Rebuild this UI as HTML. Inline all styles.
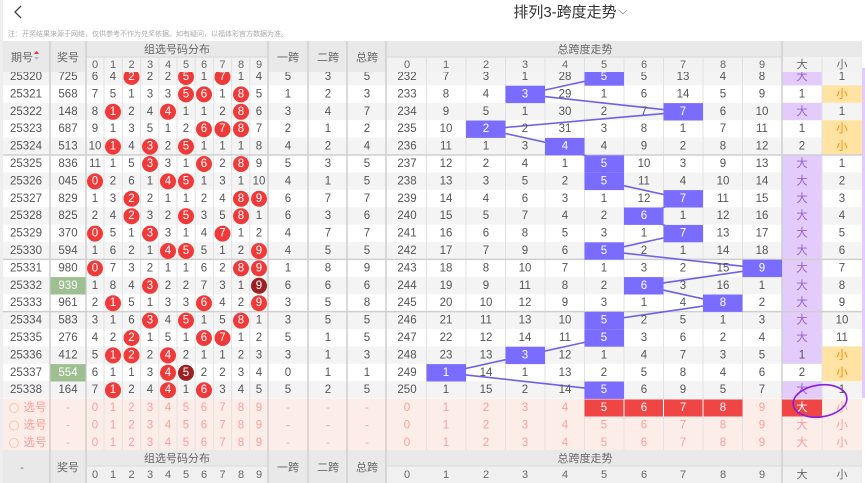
<!DOCTYPE html>
<html><head><meta charset="utf-8"><style>
body{margin:0;background:#fff;width:865px;height:483px;overflow:hidden}
svg{display:block;font-family:"Liberation Sans","Noto Sans CJK SC",sans-serif}
text{text-anchor:middle;font-size:11.5px;fill:#555}
g[transform] text{dominant-baseline:central}
.w{fill:#fff}.c{fill:#f03a3a}.d{fill:#9a2222}.b{fill:#7a6cff}
.p{fill:#f8a0a0}.h{fill:#666;font-size:11px}
.dx{fill:#9a62d0}.xo{fill:#ff8c00}
</style></head><body>
<svg width="865" height="483" viewBox="0 0 865 483">
<rect x="0" y="0" width="3" height="483" fill="#eee"/>
<g>
<rect x="3" y="68" width="859" height="17.4" fill="#f4f4f4"/>
<rect x="3" y="102.8" width="859" height="17.4" fill="#f4f4f4"/>
<rect x="3" y="137.6" width="859" height="17.4" fill="#f4f4f4"/>
<rect x="3" y="172.4" width="859" height="17.4" fill="#f4f4f4"/>
<rect x="3" y="207.2" width="859" height="17.4" fill="#f4f4f4"/>
<rect x="3" y="242" width="859" height="17.4" fill="#f4f4f4"/>
<rect x="3" y="276.8" width="859" height="17.4" fill="#f4f4f4"/>
<rect x="3" y="311.6" width="859" height="17.4" fill="#f4f4f4"/>
<rect x="3" y="346.4" width="859" height="17.4" fill="#f4f4f4"/>
<rect x="3" y="381.2" width="859" height="17.4" fill="#f4f4f4"/>
<rect x="3" y="399" width="859" height="51" fill="#fdede8"/>
</g>
<g fill="#e3cbfb">
<rect x="782" y="68" width="40" height="17.4"/>
<rect x="782" y="102.8" width="40" height="17.4"/>
<rect x="782" y="155" width="40" height="208.8"/>
<rect x="782" y="381.2" width="40" height="17.4"/>
</g>
<g fill="#ffe3a3">
<rect x="822" y="85.4" width="40" height="17.4"/>
<rect x="822" y="120.2" width="40" height="34.8"/>
<rect x="822" y="346.4" width="40" height="34.8"/>
</g>
<rect x="862" y="68" width="3" height="330" fill="#e3cbfb"/>
<g stroke="#e2e2e2" stroke-width="1">
<line x1="104" y1="57" x2="104" y2="450"/><line x1="122.4" y1="57" x2="122.4" y2="450"/><line x1="140.6" y1="57" x2="140.6" y2="450"/><line x1="158.8" y1="57" x2="158.8" y2="450"/><line x1="177" y1="57" x2="177" y2="450"/><line x1="195.2" y1="57" x2="195.2" y2="450"/><line x1="213.4" y1="57" x2="213.4" y2="450"/><line x1="231.6" y1="57" x2="231.6" y2="450"/><line x1="249.8" y1="57" x2="249.8" y2="450"/>
<line x1="426.5" y1="57" x2="426.5" y2="450"/><line x1="466" y1="57" x2="466" y2="450"/><line x1="505.5" y1="57" x2="505.5" y2="450"/><line x1="545" y1="57" x2="545" y2="450"/><line x1="584.5" y1="57" x2="584.5" y2="450"/><line x1="624" y1="57" x2="624" y2="450"/><line x1="663.5" y1="57" x2="663.5" y2="450"/><line x1="703" y1="57" x2="703" y2="450"/><line x1="742.5" y1="57" x2="742.5" y2="450"/>
<line x1="822" y1="57" x2="822" y2="450"/>
</g>
<g stroke="#cfcfcf" stroke-width="1.5">
<line x1="50" y1="41" x2="50" y2="483"/><line x1="86" y1="41" x2="86" y2="483"/><line x1="268" y1="41" x2="268" y2="483"/><line x1="308" y1="41" x2="308" y2="483"/><line x1="347" y1="41" x2="347" y2="483"/><line x1="386" y1="41" x2="386" y2="483"/><line x1="782" y1="41" x2="782" y2="483"/>
<line x1="3" y1="155" x2="862" y2="155"/><line x1="3" y1="259.4" x2="862" y2="259.4"/><line x1="3" y1="311.6" x2="862" y2="311.6"/>
</g>
<polyline fill="none" stroke="#6f5fef" stroke-width="1.6" points="604.3,77 525.3,94.4 683.3,111.8 485.8,129.2 564.8,146.6 604.3,164 604.3,181.4 683.3,198.8 643.8,216.2 683.3,233.6 604.3,251 762.3,268.4 643.8,285.8 722.8,303.2 604.3,320.6 604.3,338 525.3,355.4 446.3,372.8 604.3,390.2"/>

<g transform="translate(0,77)"><text x="26">25320</text><text x="68">725</text><text x="95">6</text><text x="113">4</text><circle cx="131.5" r="8" class="c"/><text x="131.5" class="w">2</text><text x="150">2</text><text x="168">2</text><circle cx="186" r="8" class="c"/><text x="186" class="w">5</text><text x="204">1</text><circle cx="222.5" r="8" class="c"/><text x="222.5" class="w">7</text><text x="241">1</text><text x="259">4</text><text x="288">5</text><text x="328">3</text><text x="367">5</text><text x="407">232</text><text x="446">7</text><text x="486">3</text><text x="525">1</text><text x="565">28</text><rect x="584.5" y="-8.7" width="39.5" height="17.4" class="b"/><text x="604" class="w">5</text><text x="644">5</text><text x="683">13</text><text x="723">4</text><text x="762">8</text><text x="802" class="dx">大</text><text x="842">1</text></g>
<g transform="translate(0,94.4)"><text x="26">25321</text><text x="68">568</text><text x="95">7</text><text x="113">5</text><text x="131.5">1</text><text x="150">3</text><text x="168">3</text><circle cx="186" r="8" class="c"/><text x="186" class="w">5</text><circle cx="204" r="8" class="c"/><text x="204" class="w">6</text><text x="222.5">1</text><circle cx="241" r="8" class="c"/><text x="241" class="w">8</text><text x="259">5</text><text x="288">1</text><text x="328">2</text><text x="367">3</text><text x="407">233</text><text x="446">8</text><text x="486">4</text><rect x="505.5" y="-8.7" width="39.5" height="17.4" class="b"/><text x="525" class="w">3</text><text x="565">29</text><text x="604">1</text><text x="644">6</text><text x="683">14</text><text x="723">5</text><text x="762">9</text><text x="802">1</text><text x="842" class="xo">小</text></g>
<g transform="translate(0,111.8)"><text x="26">25322</text><text x="68">148</text><text x="95">8</text><circle cx="113" r="8" class="c"/><text x="113" class="w">1</text><text x="131.5">2</text><text x="150">4</text><circle cx="168" r="8" class="c"/><text x="168" class="w">4</text><text x="186">1</text><text x="204">1</text><text x="222.5">2</text><circle cx="241" r="8" class="c"/><text x="241" class="w">8</text><text x="259">6</text><text x="288">3</text><text x="328">4</text><text x="367">7</text><text x="407">234</text><text x="446">9</text><text x="486">5</text><text x="525">1</text><text x="565">30</text><text x="604">2</text><text x="644">7</text><rect x="663.5" y="-8.7" width="39.5" height="17.4" class="b"/><text x="683" class="w">7</text><text x="723">6</text><text x="762">10</text><text x="802" class="dx">大</text><text x="842">1</text></g>
<g transform="translate(0,129.2)"><text x="26">25323</text><text x="68">687</text><text x="95">9</text><text x="113">1</text><text x="131.5">3</text><text x="150">5</text><text x="168">1</text><text x="186">2</text><circle cx="204" r="8" class="c"/><text x="204" class="w">6</text><circle cx="222.5" r="8" class="c"/><text x="222.5" class="w">7</text><circle cx="241" r="8" class="c"/><text x="241" class="w">8</text><text x="259">7</text><text x="288">2</text><text x="328">1</text><text x="367">2</text><text x="407">235</text><text x="446">10</text><rect x="466" y="-8.7" width="39.5" height="17.4" class="b"/><text x="486" class="w">2</text><text x="525">2</text><text x="565">31</text><text x="604">3</text><text x="644">8</text><text x="683">1</text><text x="723">7</text><text x="762">11</text><text x="802">1</text><text x="842" class="xo">小</text></g>
<g transform="translate(0,146.6)"><text x="26">25324</text><text x="68">513</text><text x="95">10</text><circle cx="113" r="8" class="c"/><text x="113" class="w">1</text><text x="131.5">4</text><circle cx="150" r="8" class="c"/><text x="150" class="w">3</text><text x="168">2</text><circle cx="186" r="8" class="c"/><text x="186" class="w">5</text><text x="204">1</text><text x="222.5">1</text><text x="241">1</text><text x="259">8</text><text x="288">4</text><text x="328">2</text><text x="367">4</text><text x="407">236</text><text x="446">11</text><text x="486">1</text><text x="525">3</text><rect x="545" y="-8.7" width="39.5" height="17.4" class="b"/><text x="565" class="w">4</text><text x="604">4</text><text x="644">9</text><text x="683">2</text><text x="723">8</text><text x="762">12</text><text x="802">2</text><text x="842" class="xo">小</text></g>
<g transform="translate(0,164)"><text x="26">25325</text><text x="68">836</text><text x="95">11</text><text x="113">1</text><text x="131.5">5</text><circle cx="150" r="8" class="c"/><text x="150" class="w">3</text><text x="168">3</text><text x="186">1</text><circle cx="204" r="8" class="c"/><text x="204" class="w">6</text><text x="222.5">2</text><circle cx="241" r="8" class="c"/><text x="241" class="w">8</text><text x="259">9</text><text x="288">5</text><text x="328">3</text><text x="367">5</text><text x="407">237</text><text x="446">12</text><text x="486">2</text><text x="525">4</text><text x="565">1</text><rect x="584.5" y="-8.7" width="39.5" height="17.4" class="b"/><text x="604" class="w">5</text><text x="644">10</text><text x="683">3</text><text x="723">9</text><text x="762">13</text><text x="802" class="dx">大</text><text x="842">1</text></g>
<g transform="translate(0,181.4)"><text x="26">25326</text><text x="68">045</text><circle cx="95" r="8" class="c"/><text x="95" class="w">0</text><text x="113">2</text><text x="131.5">6</text><text x="150">1</text><circle cx="168" r="8" class="c"/><text x="168" class="w">4</text><circle cx="186" r="8" class="c"/><text x="186" class="w">5</text><text x="204">1</text><text x="222.5">3</text><text x="241">1</text><text x="259">10</text><text x="288">4</text><text x="328">1</text><text x="367">5</text><text x="407">238</text><text x="446">13</text><text x="486">3</text><text x="525">5</text><text x="565">2</text><rect x="584.5" y="-8.7" width="39.5" height="17.4" class="b"/><text x="604" class="w">5</text><text x="644">11</text><text x="683">4</text><text x="723">10</text><text x="762">14</text><text x="802" class="dx">大</text><text x="842">2</text></g>
<g transform="translate(0,198.8)"><text x="26">25327</text><text x="68">829</text><text x="95">1</text><text x="113">3</text><circle cx="131.5" r="8" class="c"/><text x="131.5" class="w">2</text><text x="150">2</text><text x="168">1</text><text x="186">1</text><text x="204">2</text><text x="222.5">4</text><circle cx="241" r="8" class="c"/><text x="241" class="w">8</text><circle cx="259" r="8" class="c"/><text x="259" class="w">9</text><text x="288">6</text><text x="328">7</text><text x="367">7</text><text x="407">239</text><text x="446">14</text><text x="486">4</text><text x="525">6</text><text x="565">3</text><text x="604">1</text><text x="644">12</text><rect x="663.5" y="-8.7" width="39.5" height="17.4" class="b"/><text x="683" class="w">7</text><text x="723">11</text><text x="762">15</text><text x="802" class="dx">大</text><text x="842">3</text></g>
<g transform="translate(0,216.2)"><text x="26">25328</text><text x="68">825</text><text x="95">2</text><text x="113">4</text><circle cx="131.5" r="8" class="c"/><text x="131.5" class="w">2</text><text x="150">3</text><text x="168">2</text><circle cx="186" r="8" class="c"/><text x="186" class="w">5</text><text x="204">3</text><text x="222.5">5</text><circle cx="241" r="8" class="c"/><text x="241" class="w">8</text><text x="259">1</text><text x="288">6</text><text x="328">3</text><text x="367">6</text><text x="407">240</text><text x="446">15</text><text x="486">5</text><text x="525">7</text><text x="565">4</text><text x="604">2</text><rect x="624" y="-8.7" width="39.5" height="17.4" class="b"/><text x="644" class="w">6</text><text x="683">1</text><text x="723">12</text><text x="762">16</text><text x="802" class="dx">大</text><text x="842">4</text></g>
<g transform="translate(0,233.6)"><text x="26">25329</text><text x="68">370</text><circle cx="95" r="8" class="c"/><text x="95" class="w">0</text><text x="113">5</text><text x="131.5">1</text><circle cx="150" r="8" class="c"/><text x="150" class="w">3</text><text x="168">3</text><text x="186">1</text><text x="204">4</text><circle cx="222.5" r="8" class="c"/><text x="222.5" class="w">7</text><text x="241">1</text><text x="259">2</text><text x="288">4</text><text x="328">7</text><text x="367">7</text><text x="407">241</text><text x="446">16</text><text x="486">6</text><text x="525">8</text><text x="565">5</text><text x="604">3</text><text x="644">1</text><rect x="663.5" y="-8.7" width="39.5" height="17.4" class="b"/><text x="683" class="w">7</text><text x="723">13</text><text x="762">17</text><text x="802" class="dx">大</text><text x="842">5</text></g>
<g transform="translate(0,251)"><text x="26">25330</text><text x="68">594</text><text x="95">1</text><text x="113">6</text><text x="131.5">2</text><text x="150">1</text><circle cx="168" r="8" class="c"/><text x="168" class="w">4</text><circle cx="186" r="8" class="c"/><text x="186" class="w">5</text><text x="204">5</text><text x="222.5">1</text><text x="241">2</text><circle cx="259" r="8" class="c"/><text x="259" class="w">9</text><text x="288">4</text><text x="328">5</text><text x="367">5</text><text x="407">242</text><text x="446">17</text><text x="486">7</text><text x="525">9</text><text x="565">6</text><rect x="584.5" y="-8.7" width="39.5" height="17.4" class="b"/><text x="604" class="w">5</text><text x="644">2</text><text x="683">1</text><text x="723">14</text><text x="762">18</text><text x="802" class="dx">大</text><text x="842">6</text></g>
<g transform="translate(0,268.4)"><text x="26">25331</text><text x="68">980</text><circle cx="95" r="8" class="c"/><text x="95" class="w">0</text><text x="113">7</text><text x="131.5">3</text><text x="150">2</text><text x="168">1</text><text x="186">1</text><text x="204">6</text><text x="222.5">2</text><circle cx="241" r="8" class="c"/><text x="241" class="w">8</text><circle cx="259" r="8" class="c"/><text x="259" class="w">9</text><text x="288">1</text><text x="328">8</text><text x="367">9</text><text x="407">243</text><text x="446">18</text><text x="486">8</text><text x="525">10</text><text x="565">7</text><text x="604">1</text><text x="644">3</text><text x="683">2</text><text x="723">15</text><rect x="742.5" y="-8.7" width="39.5" height="17.4" class="b"/><text x="762" class="w">9</text><text x="802" class="dx">大</text><text x="842">7</text></g>
<g transform="translate(0,285.8)"><text x="26">25332</text><rect x="50.5" y="-8.7" width="35" height="17.4" fill="#9dbf91"/><text x="68" class="w">939</text><text x="95">1</text><text x="113">8</text><text x="131.5">4</text><circle cx="150" r="8" class="c"/><text x="150" class="w">3</text><text x="168">2</text><text x="186">2</text><text x="204">7</text><text x="222.5">3</text><text x="241">1</text><circle cx="259" r="8" class="d"/><text x="259" class="w">9</text><text x="288">6</text><text x="328">6</text><text x="367">6</text><text x="407">244</text><text x="446">19</text><text x="486">9</text><text x="525">11</text><text x="565">8</text><text x="604">2</text><rect x="624" y="-8.7" width="39.5" height="17.4" class="b"/><text x="644" class="w">6</text><text x="683">3</text><text x="723">16</text><text x="762">1</text><text x="802" class="dx">大</text><text x="842">8</text></g>
<g transform="translate(0,303.2)"><text x="26">25333</text><text x="68">961</text><text x="95">2</text><circle cx="113" r="8" class="c"/><text x="113" class="w">1</text><text x="131.5">5</text><text x="150">1</text><text x="168">3</text><text x="186">3</text><circle cx="204" r="8" class="c"/><text x="204" class="w">6</text><text x="222.5">4</text><text x="241">2</text><circle cx="259" r="8" class="c"/><text x="259" class="w">9</text><text x="288">3</text><text x="328">5</text><text x="367">8</text><text x="407">245</text><text x="446">20</text><text x="486">10</text><text x="525">12</text><text x="565">9</text><text x="604">3</text><text x="644">1</text><text x="683">4</text><rect x="703" y="-8.7" width="39.5" height="17.4" class="b"/><text x="723" class="w">8</text><text x="762">2</text><text x="802" class="dx">大</text><text x="842">9</text></g>
<g transform="translate(0,320.6)"><text x="26">25334</text><text x="68">583</text><text x="95">3</text><text x="113">1</text><text x="131.5">6</text><circle cx="150" r="8" class="c"/><text x="150" class="w">3</text><text x="168">4</text><circle cx="186" r="8" class="c"/><text x="186" class="w">5</text><text x="204">1</text><text x="222.5">5</text><circle cx="241" r="8" class="c"/><text x="241" class="w">8</text><text x="259">1</text><text x="288">3</text><text x="328">5</text><text x="367">5</text><text x="407">246</text><text x="446">21</text><text x="486">11</text><text x="525">13</text><text x="565">10</text><rect x="584.5" y="-8.7" width="39.5" height="17.4" class="b"/><text x="604" class="w">5</text><text x="644">2</text><text x="683">5</text><text x="723">1</text><text x="762">3</text><text x="802" class="dx">大</text><text x="842">10</text></g>
<g transform="translate(0,338)"><text x="26">25335</text><text x="68">276</text><text x="95">4</text><text x="113">2</text><circle cx="131.5" r="8" class="c"/><text x="131.5" class="w">2</text><text x="150">1</text><text x="168">5</text><text x="186">1</text><circle cx="204" r="8" class="c"/><text x="204" class="w">6</text><circle cx="222.5" r="8" class="c"/><text x="222.5" class="w">7</text><text x="241">1</text><text x="259">2</text><text x="288">5</text><text x="328">1</text><text x="367">5</text><text x="407">247</text><text x="446">22</text><text x="486">12</text><text x="525">14</text><text x="565">11</text><rect x="584.5" y="-8.7" width="39.5" height="17.4" class="b"/><text x="604" class="w">5</text><text x="644">3</text><text x="683">6</text><text x="723">2</text><text x="762">4</text><text x="802" class="dx">大</text><text x="842">11</text></g>
<g transform="translate(0,355.4)"><text x="26">25336</text><text x="68">412</text><text x="95">5</text><circle cx="113" r="8" class="c"/><text x="113" class="w">1</text><circle cx="131.5" r="8" class="c"/><text x="131.5" class="w">2</text><text x="150">2</text><circle cx="168" r="8" class="c"/><text x="168" class="w">4</text><text x="186">2</text><text x="204">1</text><text x="222.5">1</text><text x="241">2</text><text x="259">3</text><text x="288">3</text><text x="328">1</text><text x="367">3</text><text x="407">248</text><text x="446">23</text><text x="486">13</text><rect x="505.5" y="-8.7" width="39.5" height="17.4" class="b"/><text x="525" class="w">3</text><text x="565">12</text><text x="604">1</text><text x="644">4</text><text x="683">7</text><text x="723">3</text><text x="762">5</text><text x="802">1</text><text x="842" class="xo">小</text></g>
<g transform="translate(0,372.8)"><text x="26">25337</text><rect x="50.5" y="-8.7" width="35" height="17.4" fill="#9dbf91"/><text x="68" class="w">554</text><text x="95">6</text><text x="113">1</text><text x="131.5">1</text><text x="150">3</text><circle cx="168" r="8" class="c"/><text x="168" class="w">4</text><circle cx="186" r="8" class="d"/><text x="186" class="w">5</text><text x="204">2</text><text x="222.5">2</text><text x="241">3</text><text x="259">4</text><text x="288">0</text><text x="328">1</text><text x="367">1</text><text x="407">249</text><rect x="426.5" y="-8.7" width="39.5" height="17.4" class="b"/><text x="446" class="w">1</text><text x="486">14</text><text x="525">1</text><text x="565">13</text><text x="604">2</text><text x="644">5</text><text x="683">8</text><text x="723">4</text><text x="762">6</text><text x="802">2</text><text x="842" class="xo">小</text></g>
<g transform="translate(0,390.2)"><text x="26">25338</text><text x="68">164</text><text x="95">7</text><circle cx="113" r="8" class="c"/><text x="113" class="w">1</text><text x="131.5">2</text><text x="150">4</text><circle cx="168" r="8" class="c"/><text x="168" class="w">4</text><text x="186">1</text><circle cx="204" r="8" class="c"/><text x="204" class="w">6</text><text x="222.5">3</text><text x="241">4</text><text x="259">5</text><text x="288">5</text><text x="328">2</text><text x="367">5</text><text x="407">250</text><text x="446">1</text><text x="486">15</text><text x="525">2</text><text x="565">14</text><rect x="584.5" y="-8.7" width="39.5" height="17.4" class="b"/><text x="604" class="w">5</text><text x="644">6</text><text x="683">9</text><text x="723">5</text><text x="762">7</text><text x="802" class="dx">大</text><text x="842">1</text></g>

<rect x="584.5" y="399.5" width="158" height="17" fill="#f04545"/>
<rect x="782" y="399.5" width="40" height="17" fill="#f04545"/>
<g stroke="#fff" stroke-width="1"><line x1="624" y1="399.5" x2="624" y2="416.5"/><line x1="663.5" y1="399.5" x2="663.5" y2="416.5"/><line x1="703" y1="399.5" x2="703" y2="416.5"/></g>
<g transform="translate(0,408)"><circle cx="14" cy="0" r="4.5" fill="none" stroke="#f9c4b8"/><text x="35" class="p">选号</text><text x="68" class="p">-</text><text x="95" class="p">0</text><text x="113" class="p">1</text><text x="131.5" class="p">2</text><text x="150" class="p">3</text><text x="168" class="p">4</text><text x="186" class="p">5</text><text x="204" class="p">6</text><text x="222.5" class="p">7</text><text x="241" class="p">8</text><text x="259" class="p">9</text><text x="288" class="p">-</text><text x="328" class="p">-</text><text x="367" class="p">-</text><text x="407" class="p">0</text><text x="446" class="p">1</text><text x="486" class="p">2</text><text x="525" class="p">3</text><text x="565" class="p">4</text><text x="604" class="w">5</text><text x="644" class="w">6</text><text x="683" class="w">7</text><text x="723" class="w">8</text><text x="762" class="p">9</text><text x="802" class="w">大</text><text x="842" class="p">小</text></g>
<g transform="translate(0,425.5)"><circle cx="14" cy="0" r="4.5" fill="none" stroke="#f9c4b8"/><text x="35" class="p">选号</text><text x="68" class="p">-</text><text x="95" class="p">0</text><text x="113" class="p">1</text><text x="131.5" class="p">2</text><text x="150" class="p">3</text><text x="168" class="p">4</text><text x="186" class="p">5</text><text x="204" class="p">6</text><text x="222.5" class="p">7</text><text x="241" class="p">8</text><text x="259" class="p">9</text><text x="288" class="p">-</text><text x="328" class="p">-</text><text x="367" class="p">-</text><text x="407" class="p">0</text><text x="446" class="p">1</text><text x="486" class="p">2</text><text x="525" class="p">3</text><text x="565" class="p">4</text><text x="604" class="p">5</text><text x="644" class="p">6</text><text x="683" class="p">7</text><text x="723" class="p">8</text><text x="762" class="p">9</text><text x="802" class="p">大</text><text x="842" class="p">小</text></g>
<g transform="translate(0,443)"><circle cx="14" cy="0" r="4.5" fill="none" stroke="#f9c4b8"/><text x="35" class="p">选号</text><text x="68" class="p">-</text><text x="95" class="p">0</text><text x="113" class="p">1</text><text x="131.5" class="p">2</text><text x="150" class="p">3</text><text x="168" class="p">4</text><text x="186" class="p">5</text><text x="204" class="p">6</text><text x="222.5" class="p">7</text><text x="241" class="p">8</text><text x="259" class="p">9</text><text x="288" class="p">-</text><text x="328" class="p">-</text><text x="367" class="p">-</text><text x="407" class="p">0</text><text x="446" class="p">1</text><text x="486" class="p">2</text><text x="525" class="p">3</text><text x="565" class="p">4</text><text x="604" class="p">5</text><text x="644" class="p">6</text><text x="683" class="p">7</text><text x="723" class="p">8</text><text x="762" class="p">9</text><text x="802" class="p">大</text><text x="842" class="p">小</text></g>
<ellipse cx="820" cy="401" rx="27" ry="16" fill="none" stroke="#8a1ee0" stroke-width="1.6" transform="rotate(-8 820 401)"/>

<rect x="3" y="0" width="862" height="41" fill="#fff"/>
<path d="M21 6 L15 12 L21 18" fill="none" stroke="#444" stroke-width="1.3"/>
<text x="565" y="17" style="font-size:15px;fill:#333">排列3-跨度走势</text>
<path d="M619 10 L623 14 L627 10" fill="none" stroke="#999" stroke-width="0.8"/>
<text x="8" y="36" style="font-size:7px;fill:#aaa;text-anchor:start">注：开奖结果来源于网络，仅供参考不作为兑奖依据。如有疑问，以福体彩官方数据为准。</text>
<rect x="3" y="41" width="859" height="31" fill="#e9e9e9"/>
<rect x="86" y="57" width="182" height="15" fill="#f2f2f2"/>
<rect x="387" y="57" width="475" height="15" fill="#f2f2f2"/>
<g stroke="#d6d6d6"><line x1="86" y1="57" x2="268" y2="57"/><line x1="387" y1="57" x2="782" y2="57"/></g>
<g stroke="#cfcfcf" stroke-width="1.5"><line x1="50" y1="41" x2="50" y2="72"/><line x1="86" y1="41" x2="86" y2="72"/><line x1="268" y1="41" x2="268" y2="72"/><line x1="308" y1="41" x2="308" y2="72"/><line x1="347" y1="41" x2="347" y2="72"/><line x1="386" y1="41" x2="386" y2="72"/><line x1="782" y1="41" x2="782" y2="72"/></g>
<g stroke="#e0e0e0"><line x1="104" y1="57" x2="104" y2="72"/><line x1="122.4" y1="57" x2="122.4" y2="72"/><line x1="140.6" y1="57" x2="140.6" y2="72"/><line x1="158.8" y1="57" x2="158.8" y2="72"/><line x1="177" y1="57" x2="177" y2="72"/><line x1="195.2" y1="57" x2="195.2" y2="72"/><line x1="213.4" y1="57" x2="213.4" y2="72"/><line x1="231.6" y1="57" x2="231.6" y2="72"/><line x1="249.8" y1="57" x2="249.8" y2="72"/><line x1="426.5" y1="57" x2="426.5" y2="72"/><line x1="466" y1="57" x2="466" y2="72"/><line x1="505.5" y1="57" x2="505.5" y2="72"/><line x1="545" y1="57" x2="545" y2="72"/><line x1="584.5" y1="57" x2="584.5" y2="72"/><line x1="624" y1="57" x2="624" y2="72"/><line x1="663.5" y1="57" x2="663.5" y2="72"/><line x1="703" y1="57" x2="703" y2="72"/><line x1="742.5" y1="57" x2="742.5" y2="72"/><line x1="822" y1="57" x2="822" y2="72"/></g>
<text x="22" y="61" class="h">期号</text>
<path d="M34 54 L36.5 51 L39 54 Z" fill="#e33"/><path d="M34 57 L36.5 60 L39 57 Z" fill="#bbb"/>
<text x="68" y="61" class="h">奖号</text>
<text x="177" y="53" class="h">组选号码分布</text>
<text x="288" y="61" class="h">一跨</text><text x="328" y="61" class="h">二跨</text><text x="367" y="61" class="h">总跨</text>
<text x="585" y="53" class="h">总跨度走势</text>
<g transform="translate(0,65)"><text x="95" class="h">0</text><text x="113" class="h">1</text><text x="131.5" class="h">2</text><text x="150" class="h">3</text><text x="168" class="h">4</text><text x="186" class="h">5</text><text x="204" class="h">6</text><text x="222.5" class="h">7</text><text x="241" class="h">8</text><text x="259" class="h">9</text><text x="407" class="h">0</text><text x="446" class="h">1</text><text x="486" class="h">2</text><text x="525" class="h">3</text><text x="565" class="h">4</text><text x="604" class="h">5</text><text x="644" class="h">6</text><text x="683" class="h">7</text><text x="723" class="h">8</text><text x="762" class="h">9</text><text x="802" class="h">大</text><text x="842" class="h">小</text></g>
<rect x="3" y="450" width="859" height="33" fill="#e9e9e9"/>
<rect x="86" y="466" width="182" height="17" fill="#f0f0f0"/>
<rect x="387" y="466" width="475" height="17" fill="#f0f0f0"/>
<g stroke="#cfcfcf" stroke-width="1.5"><line x1="50" y1="450" x2="50" y2="483"/><line x1="86" y1="450" x2="86" y2="483"/><line x1="268" y1="450" x2="268" y2="483"/><line x1="308" y1="450" x2="308" y2="483"/><line x1="347" y1="450" x2="347" y2="483"/><line x1="386" y1="450" x2="386" y2="483"/><line x1="782" y1="450" x2="782" y2="483"/></g>
<g stroke="#dcdcdc"><line x1="86" y1="466" x2="268" y2="466"/><line x1="387" y1="466" x2="862" y2="466"/></g>
<text x="22" y="471" class="h">-</text><text x="68" y="471" class="h">奖号</text>
<text x="177" y="462" class="h">组选号码分布</text>
<text x="288" y="471" class="h">一跨</text><text x="328" y="471" class="h">二跨</text><text x="367" y="471" class="h">总跨</text>
<text x="585" y="462" class="h">总跨度走势</text>
<g transform="translate(0,475)"><text x="95" class="h">0</text><text x="113" class="h">1</text><text x="131.5" class="h">2</text><text x="150" class="h">3</text><text x="168" class="h">4</text><text x="186" class="h">5</text><text x="204" class="h">6</text><text x="222.5" class="h">7</text><text x="241" class="h">8</text><text x="259" class="h">9</text><text x="407" class="h">0</text><text x="446" class="h">1</text><text x="486" class="h">2</text><text x="525" class="h">3</text><text x="565" class="h">4</text><text x="604" class="h">5</text><text x="644" class="h">6</text><text x="683" class="h">7</text><text x="723" class="h">8</text><text x="762" class="h">9</text><text x="802" class="h">大</text><text x="842" class="h">小</text></g>
</svg>
</body></html>
